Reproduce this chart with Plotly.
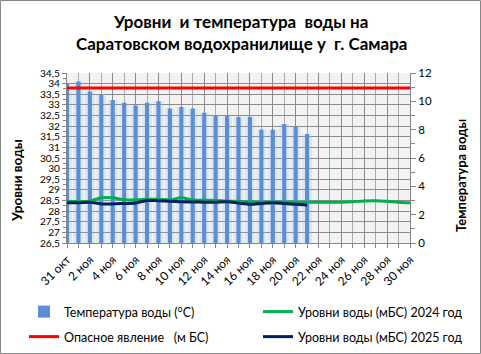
import plotly.graph_objects as go

# ---------------- data ----------------
dates = ["2025-10-31", "2025-11-01", "2025-11-02", "2025-11-03", "2025-11-04", "2025-11-05",
         "2025-11-06", "2025-11-07", "2025-11-08", "2025-11-09", "2025-11-10", "2025-11-11",
         "2025-11-12", "2025-11-13", "2025-11-14", "2025-11-15", "2025-11-16", "2025-11-17",
         "2025-11-18", "2025-11-19", "2025-11-20", "2025-11-21", "2025-11-22", "2025-11-23",
         "2025-11-24", "2025-11-25", "2025-11-26", "2025-11-27", "2025-11-28", "2025-11-29",
         "2025-11-30"]

tick_dates = ["2025-10-31", "2025-11-02", "2025-11-04", "2025-11-06", "2025-11-08", "2025-11-10",
              "2025-11-12", "2025-11-14", "2025-11-16", "2025-11-18", "2025-11-20", "2025-11-22",
              "2025-11-24", "2025-11-26", "2025-11-28", "2025-11-30"]
tick_labels = ["31 окт", "2 ноя", "4 ноя", "6 ноя", "8 ноя", "10 ноя", "12 ноя", "14 ноя",
               "16 ноя", "18 ноя", "20 ноя", "22 ноя", "24 ноя", "26 ноя", "28 ноя", "30 ноя"]

# water temperature (°C), 31 Oct .. 21 Nov
temperature = [11.3, 11.4, 10.7, 10.5, 10.1, 9.9, 9.7, 9.9, 10.0, 9.5, 9.6,
               9.5, 9.2, 9.0, 9.0, 8.9, 8.9, 8.0, 8.0, 8.4, 8.2, 7.7]

# water level 2024 (m BS), 31 Oct .. 30 Nov
level_2024 = [28.45, 28.45, 28.47, 28.63, 28.63, 28.53, 28.53, 28.56, 28.56, 28.53, 28.63,
              28.52, 28.51, 28.50, 28.47, 28.45, 28.44, 28.43, 28.43, 28.43, 28.42, 28.42,
              28.42, 28.42, 28.42, 28.44, 28.48, 28.49, 28.46, 28.42, 28.39]

# water level 2025 (m BS), 31 Oct .. 21 Nov
level_2025 = [28.40, 28.40, 28.42, 28.34, 28.34, 28.36, 28.38, 28.50, 28.49, 28.47, 28.44,
              28.43, 28.42, 28.42, 28.44, 28.38, 28.32, 28.36, 28.40, 28.36, 28.32, 28.29]

danger_level = 33.8  # m BS

level_ticks = [26.5, 27, 27.5, 28, 28.5, 29, 29.5, 30, 30.5, 31, 31.5, 32, 32.5, 33, 33.5, 34, 34.5]
level_tick_text = ["26,5", "27", "27,5", "28", "28,5", "29", "29,5", "30", "30,5", "31", "31,5",
                   "32", "32,5", "33", "33,5", "34", "34,5"]
temp_ticks = [0, 2, 4, 6, 8, 10, 12]

# ---------------- figure ----------------
W, H = 481, 354
L, R, T, B = 67, 71, 73, 111
PW, PH = W - L - R, H - T - B
FONT = "Lato"
DAY = 86400000

def px_x(x):
    return (x - L) / PW

def px_y(y):
    return (H - B - y) / PH

fig = go.Figure()

tdates = dates[:len(temperature)]

# soft glow behind the bars
fig.add_trace(go.Bar(x=tdates, y=temperature, width=0.85 * DAY, yaxis="y",
                     marker=dict(color="rgba(150,185,230,0.22)", line=dict(width=0)),
                     showlegend=False, hoverinfo="skip"))
fig.add_trace(go.Bar(x=tdates, y=temperature, width=0.36 * DAY, yaxis="y",
                     name="Температура воды (°С)", legend="legend",
                     marker=dict(color="#5A8ED6", line=dict(width=0))))

fig.add_trace(go.Scatter(x=dates, y=level_2024, yaxis="y2", mode="lines",
                         name="Уровни воды (мБС) 2024 год", legend="legend2",
                         line=dict(color="#00B050", width=3, shape="spline", smoothing=0.8)))
fig.add_trace(go.Scatter(x=dates, y=[danger_level] * len(dates), yaxis="y2", mode="lines",
                         name="Опасное явление\u00a0\u00a0\u00a0(м БС)", legend="legend3",
                         line=dict(color="#FF0000", width=3)))
fig.add_trace(go.Scatter(x=dates[:len(level_2025)], y=level_2025, yaxis="y2", mode="lines",
                         name="Уровни воды (мБС) 2025 год", legend="legend4",
                         line=dict(color="#002060", width=3, shape="spline", smoothing=0.8)))

legend_common = dict(
    orientation="v", xref="container", yref="container",
    xanchor="left", yanchor="middle",
    font=dict(family=FONT, size=12.5, color="#000000"),
    bgcolor="rgba(0,0,0,0)", itemwidth=30, borderwidth=0,
)

fig.update_layout(
    width=W, height=H,
    margin=dict(l=L, r=R, t=T, b=B, autoexpand=False),
    paper_bgcolor="#FFFFFF",
    plot_bgcolor="#F2F2F2",
    barmode="overlay",
    font=dict(family=FONT, size=12, color="#000000"),
    xaxis=dict(
        type="date",
        range=[dates[0], dates[-1]],
        tickmode="array", tickvals=tick_dates, ticktext=tick_labels,
        tickangle=-45, tickfont=dict(family=FONT, size=12, color="#000000"),
        ticks="outside", ticklen=4, tickcolor="#868686",
        showgrid=True, gridcolor="#8C8C8C", gridwidth=1,
        minor=dict(dtick=DAY, tick0=dates[0], showgrid=True, gridcolor="#ABABAB",
                   ticks="outside", ticklen=4, tickcolor="#868686"),
        showline=True, linecolor="#868686", linewidth=1,
        zeroline=False, fixedrange=True, automargin=False,
    ),
    yaxis=dict(
        side="right", range=[0, 12],
        tickmode="array", tickvals=temp_ticks,
        tickfont=dict(family=FONT, size=11.5, color="#000000"),
        ticks="outside", ticklen=5, tickcolor="#868686",
        minor=dict(dtick=1, ticks="outside", ticklen=4, tickcolor="#868686", showgrid=False),
        showgrid=False, zeroline=False, automargin=False,
        showline=True, linecolor="#868686", linewidth=1,
    ),
    yaxis2=dict(
        side="left", overlaying="y", range=[26.5, 34.5],
        tickmode="array", tickvals=level_ticks, ticktext=level_tick_text,
        tickfont=dict(family=FONT, size=10.2, color="#000000"),
        ticks="outside", ticklen=4, tickcolor="#868686",
        minor=dict(dtick=0.25, ticks="outside", ticklen=3, tickcolor="#868686", showgrid=False),
        showgrid=True, gridcolor="#8C8C8C", gridwidth=1,
        zeroline=False, automargin=False,
        showline=True, linecolor="#868686", linewidth=1,
    ),
    legend=dict(legend_common, x=24 / W, y=1 - 312 / H),
    legend2=dict(legend_common, x=258 / W, y=1 - 312 / H),
    legend3=dict(legend_common, x=24 / W, y=1 - 337 / H),
    legend4=dict(legend_common, x=258 / W, y=1 - 337 / H),
    showlegend=True,
)

# title lines
fig.add_annotation(text="<b>Уровни\u00a0 и температура\u00a0 воды на</b>", xref="paper", yref="paper",
                   x=px_x(240), y=px_y(22), xanchor="center", yanchor="middle", showarrow=False,
                   font=dict(family=FONT, size=17, color="#000000"))
fig.add_annotation(text="<b>Саратовском водохранилище у\u00a0 г. Самара</b>", xref="paper", yref="paper",
                   x=px_x(241), y=px_y(44), xanchor="center", yanchor="middle", showarrow=False,
                   font=dict(family=FONT, size=17, color="#000000"))

# axis titles
fig.add_annotation(text="<b>Уровни воды</b>", xref="paper", yref="paper",
                   x=px_x(17), y=px_y(181), xanchor="center", yanchor="middle", showarrow=False,
                   textangle=-90, font=dict(family=FONT, size=13.5, color="#000000"))
fig.add_annotation(text="<b>Температура воды</b>", xref="paper", yref="paper",
                   x=px_x(461), y=px_y(175), xanchor="center", yanchor="middle", showarrow=False,
                   textangle=-90, font=dict(family=FONT, size=13, color="#000000"))

# chart border
fig.add_shape(type="rect", xref="paper", yref="paper",
              x0=px_x(0.5), x1=px_x(W - 0.5), y0=px_y(H - 0.5), y1=px_y(0.5),
              line=dict(color="#868686", width=1), fillcolor="rgba(0,0,0,0)", layer="below")

fig.write_html("out.html")
